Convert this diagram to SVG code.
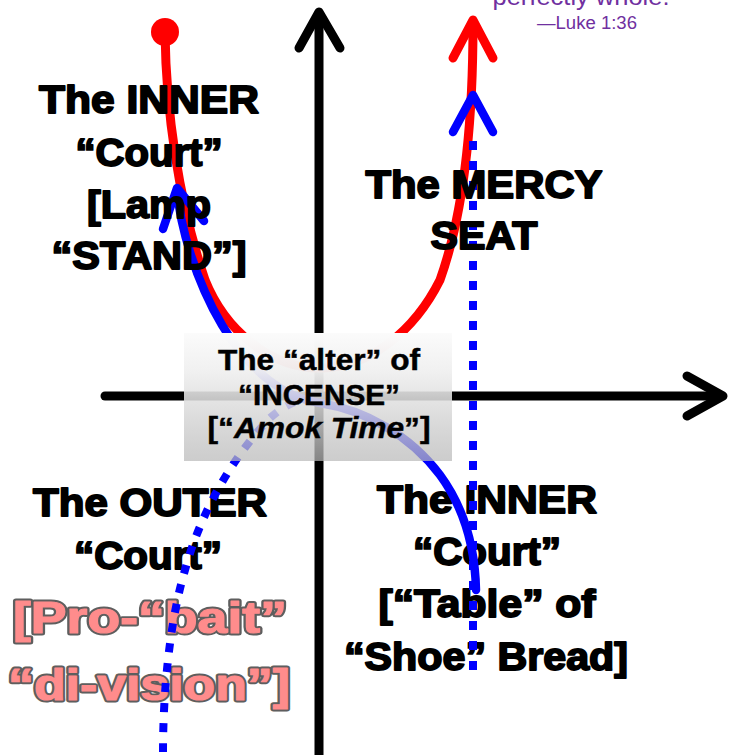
<svg xmlns="http://www.w3.org/2000/svg" width="730" height="755" viewBox="0 0 730 755">
<defs>
<linearGradient id="boxg" x1="0" y1="0" x2="0" y2="1">
<stop offset="0" stop-color="#fbfbfb" stop-opacity="1"/>
<stop offset="0.3" stop-color="#f0f0f0" stop-opacity="0.97"/>
<stop offset="0.55" stop-color="#dedede" stop-opacity="0.86"/>
<stop offset="1" stop-color="#b9b9b9" stop-opacity="0.72"/>
</linearGradient>
</defs>
<style>
.lbl{font-family:"Liberation Sans",Arial,sans-serif;font-weight:bold;font-size:38px;fill:#000;stroke:#000;stroke-width:1.8px;stroke-linejoin:round;text-anchor:middle}
.pinkbg{font-family:"Liberation Sans",Arial,sans-serif;font-weight:bold;font-size:44px;fill:#5e5e5e;stroke:#5e5e5e;stroke-width:5px;stroke-linejoin:round;text-anchor:middle}
.pink{font-family:"Liberation Sans",Arial,sans-serif;font-weight:bold;font-size:44px;fill:#ff8c8c;stroke:#ff8c8c;stroke-width:1.2px;stroke-linejoin:round;text-anchor:middle}
.box{font-family:"Liberation Sans",Arial,sans-serif;font-weight:bold;font-size:30px;fill:#000;stroke:#000;stroke-width:0.5px;text-anchor:middle}
.quote{font-family:"Liberation Sans",Arial,sans-serif;fill:#7030a0;text-anchor:middle}
.axis{fill:none;stroke:#000;stroke-width:9;stroke-linecap:round;stroke-linejoin:round}
.red{fill:none;stroke:#ff0000;stroke-width:9;stroke-linecap:round;stroke-linejoin:round}
.blue{fill:none;stroke:#0000ff;stroke-width:8.5;stroke-linecap:round;stroke-linejoin:round}
.dot{fill:none;stroke:#0000ff;stroke-width:8;stroke-dasharray:9 11}
</style>

<g id="quote">
<text class="quote" x="581" y="5" font-size="24" textLength="177" lengthAdjust="spacingAndGlyphs">perfectly whole.</text>
<text class="quote" x="587" y="29" font-size="18" textLength="100" lengthAdjust="spacingAndGlyphs">—Luke 1:36</text>
</g>

<g id="label-outer">
<text class="lbl" x="150" y="516" textLength="234" lengthAdjust="spacingAndGlyphs">The OUTER</text>
<text class="lbl" x="148" y="569" textLength="148" lengthAdjust="spacingAndGlyphs">“Court”</text>
<text class="pinkbg" x="150" y="633" textLength="274" lengthAdjust="spacingAndGlyphs">[Pro-“bait”</text>
<text class="pinkbg" x="149" y="700" textLength="282" lengthAdjust="spacingAndGlyphs">“di-vision”]</text>
<text class="pink" x="150" y="633" textLength="274" lengthAdjust="spacingAndGlyphs">[Pro-“bait”</text>
<text class="pink" x="149" y="700" textLength="282" lengthAdjust="spacingAndGlyphs">“di-vision”]</text>
</g>

<g id="label-inner-table">
<text class="lbl" x="487" y="513" textLength="220" lengthAdjust="spacingAndGlyphs">The INNER</text>
<text class="lbl" x="487" y="565" textLength="148" lengthAdjust="spacingAndGlyphs">“Court”</text>
<text class="lbl" x="487" y="617" textLength="217" lengthAdjust="spacingAndGlyphs">[“Table” of</text>
<text class="lbl" x="486" y="670" textLength="284" lengthAdjust="spacingAndGlyphs">“Shoe” Bread]</text>
</g>

<g id="connectors">
<g id="axes">
<path class="axis" d="M319,760 L319,14"/>
<polyline class="axis" points="299,48 319,12 340,48"/>
<path class="axis" d="M105,396 L721,396"/>
<polyline class="axis" points="687,376 723,396 687,416"/>
</g>
<g id="red-curve">
<path class="red" d="M165,32 C166,110 178,200 205,280 C225,330 270,368 320,368 C370,368 415,330 440,280 C465,210 473,120 473,24"/>
<circle cx="165" cy="32" r="14" fill="#ff0000"/>
<polyline class="red" points="453,58 473,20 493,58"/>
</g>
<g id="blue-solid">
<path class="blue" d="M177,190 C180,225 195,280 222,325 C250,372 285,398 320,403 C365,410 410,435 440,475 C462,505 475,545 476,590"/>
<polyline class="blue" points="163,229 177,188 204,221"/>
</g>
<g id="blue-dotted">
<path class="dot" d="M163,752 C163,690 170,620 185,570 C200,515 230,460 270,418 C290,400 305,398 320,398"/>
<path class="dot" d="M473,670 L473,136"/>
<polyline class="blue" points="453,132 473,95 493,132"/>
</g>
</g>

<g id="label-inner-lamp">
<text class="lbl" x="149" y="113" textLength="220" lengthAdjust="spacingAndGlyphs">The INNER</text>
<text class="lbl" x="149" y="166" textLength="147" lengthAdjust="spacingAndGlyphs">“Court”</text>
<text class="lbl" x="149" y="218" textLength="124" lengthAdjust="spacingAndGlyphs">[Lamp</text>
<text class="lbl" x="149" y="269" textLength="195" lengthAdjust="spacingAndGlyphs">“STAND”]</text>
</g>

<g id="label-mercy-seat">
<text class="lbl" x="484" y="198" textLength="237" lengthAdjust="spacingAndGlyphs">The MERCY</text>
<text class="lbl" x="484" y="249" textLength="107" lengthAdjust="spacingAndGlyphs">SEAT</text>
</g>

<g id="node-incense">
<rect x="184" y="333" width="268" height="128" fill="url(#boxg)"/>
<text class="box" x="319" y="370" textLength="202" lengthAdjust="spacingAndGlyphs">The “alter” of</text>
<text class="box" x="319" y="405" textLength="162" lengthAdjust="spacingAndGlyphs">“INCENSE”</text>
<text class="box" x="319" y="438" textLength="223" lengthAdjust="spacingAndGlyphs">[“<tspan font-style="italic">Amok Time</tspan>”]</text>
</g>
</svg>
